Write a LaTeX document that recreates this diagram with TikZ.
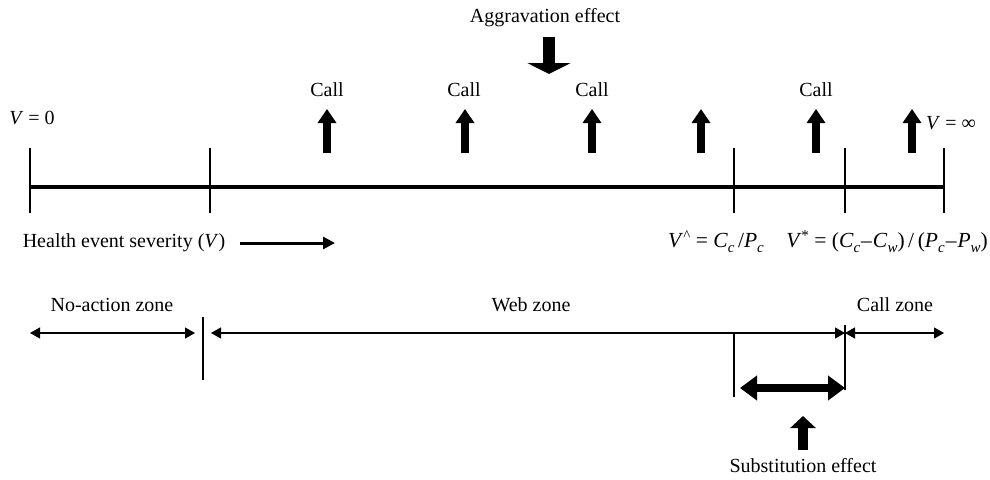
\documentclass[tikz,border=0pt]{standalone}
\usepackage{fontspec}
\setmainfont{Liberation Serif}
\usetikzlibrary{arrows.meta}

\tikzset{
  lbl/.style={inner sep=0pt, font=\fontsize{20}{24}\selectfont},
  formula/.style={inner sep=0pt, font=\fontsize{21.5}{24}\selectfont},
  axis/.style={line width=4.5pt},
  tick/.style={line width=1.8pt},
  zone/.style={line width=1.2pt, {Triangle[length=10pt,width=11pt]}-{Triangle[length=10pt,width=11pt]}},
  callarrow/.style={line width=8pt, -{Triangle[length=14pt,width=18pt]}},
  dirarrow/.style={line width=3pt, -{Triangle[length=12pt,width=12pt]}},
  aggarrow/.style={line width=12pt, -{Triangle[length=11pt,width=43pt]}},
  subarrow/.style={line width=10pt, -{Triangle[length=12pt,width=25pt]}},
  shiftarrow/.style={line width=8pt, {Triangle[length=17pt,width=24pt]}-{Triangle[length=17pt,width=24pt]}},
}
\newcommand{\iv}[1]{\textit{#1}}
% lowered / raised indices for the threshold formulas
\newcommand{\lowidx}[1]{\raisebox{-5pt}{\fontsize{15}{15}\selectfont\textit{#1}}}
\newcommand{\highidx}[1]{\raisebox{7pt}{\fontsize{15}{15}\selectfont #1}}
\newcommand{\mn}{\kern1pt–\kern1pt}

\begin{document}
\begin{tikzpicture}[x=1pt,y=-1pt]
\useasboundingbox (0,0) rectangle (990,479);

% ---- top labels
\node[lbl] (agg) at (545,18) {Aggravation effect};
\coordinate (aggS) at (549,37);
\coordinate (aggE) at (549,74);
\draw[aggarrow] (aggS) -- (aggE);

\node[lbl] (vzero) at (32,118) {\iv{V} = 0};
\node[lbl] (vinf) at (951,123) {\iv{V} = ∞};

% ---- severity axis
\coordinate (a0) at (30,187);
\coordinate (a1) at (944,187);
\draw[axis] (a0) -- (a1);
\foreach \x/\n in {30/t0,210/t1,734/t2,845/t3,944/t4}{
  \coordinate (\n top) at (\x,148);
  \coordinate (\n bot) at (\x,213);
  \draw[tick] (\n top) -- (\n bot);
}

% ---- call arrows
\foreach \x/\n in {327/c1,465/c2,592/c3,701/c4,816/c5,912/c6}{
  \coordinate (\n s) at (\x,153);
  \coordinate (\n e) at (\x,109);
  \draw[callarrow] (\n s) -- (\n e);
}
\foreach \x/\n in {327/k1,464/k2,592/k3,816/k5}{
  \node[lbl] (\n) at (\x,90) {Call};
}

% ---- axis captions
\node[lbl] (health) at (124,243) {Health event severity (\iv{V})};
\coordinate (hS) at (240,243);
\coordinate (hE) at (335,243);
\draw[dirarrow] (hS) -- (hE);

\node[formula, anchor=base west] (vhat) at (668,247)
  {\iv{V}\highidx{\^{}} = \iv{C}\lowidx{c}\,/\iv{P}\lowidx{c}};
\node[formula, anchor=base east] (vstar) at (988,247)
  {\iv{V}\highidx{*} = (\iv{C}\lowidx{c}\mn\iv{C}\lowidx{w})\,/\,(\iv{P}\lowidx{c}\mn\iv{P}\lowidx{w})};

% ---- zones
\node[lbl] (nozone) at (112,305) {No-action zone};
\node[lbl] (webzone) at (531,305) {Web zone};
\node[lbl] (callzone) at (895,305) {Call zone};

\coordinate (z0) at (30,333);
\coordinate (z1) at (195,333);
\coordinate (z2) at (211,333);
\coordinate (z3) at (845,333);
\coordinate (z4) at (944,333);
\draw[zone] (z0) -- (z1);
\draw[zone] (z2) -- (z3);
\draw[zone] (z3) -- (z4);

\coordinate (s1top) at (203,317);
\coordinate (s1bot) at (203,380);
\draw[tick] (s1top) -- (s1bot);
\coordinate (s2top) at (734,333);
\coordinate (s2bot) at (734,397);
\draw[tick] (s2top) -- (s2bot);
\coordinate (s3top) at (845,325);
\coordinate (s3bot) at (845,390);
\draw[tick] (s3top) -- (s3bot);

% ---- substitution effect
\coordinate (shL) at (740,388);
\coordinate (shR) at (845,388);
\draw[shiftarrow] (shL) -- (shR);
\coordinate (subS) at (803,450);
\coordinate (subE) at (803,416);
\draw[subarrow] (subS) -- (subE);
\node[lbl] (subst) at (803,466) {Substitution effect};
\end{tikzpicture}
\end{document}
